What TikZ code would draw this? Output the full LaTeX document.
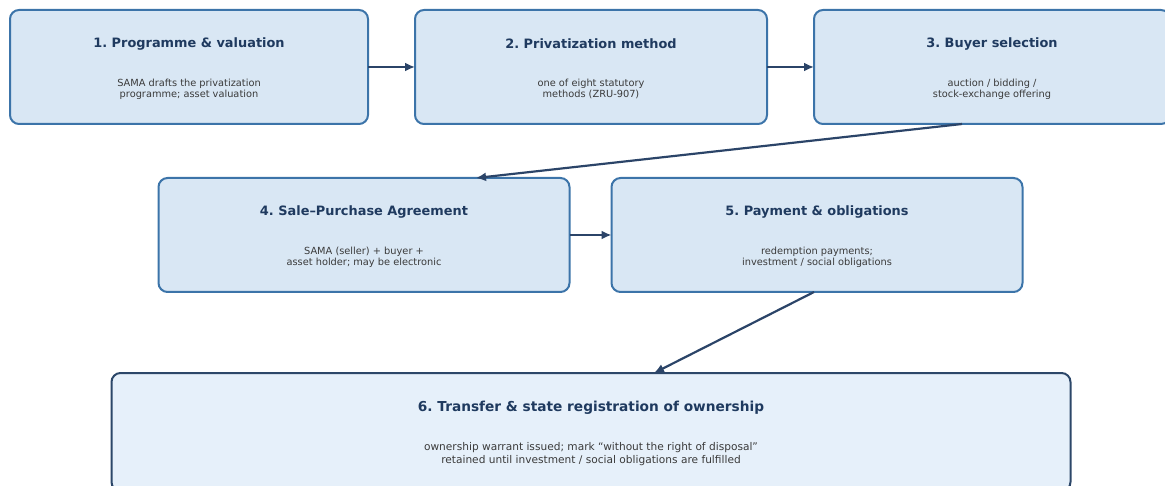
\documentclass[tikz,border=0pt]{standalone}
\usepackage{fontspec}
\setmainfont{DejaVu Sans}
\usepackage{xcolor}
\usepackage{tikz}
\usetikzlibrary{positioning,calc,arrows.meta}
\frenchspacing

\definecolor{boxfill}{HTML}{D9E7F4}
\definecolor{boxline}{HTML}{3C74A9}
\definecolor{lastfill}{HTML}{E6F0FA}
\definecolor{lastline}{HTML}{2C4769}
\definecolor{titlecol}{HTML}{1F3A5F}
\definecolor{subcol}{HTML}{3A3A3A}
\definecolor{arrowcol}{HTML}{2B4468}

\begin{document}
\begin{tikzpicture}[x=1pt, y=-1pt,
    stage/.style={draw=boxline, fill=boxfill, line width=2pt, rounded corners=9pt,
      minimum height=114pt, inner sep=0pt, outer sep=0pt},
    final/.style={stage, draw=lastline, fill=lastfill, minimum height=118pt},
    title/.style={text=titlecol, inner sep=0pt, font=\fontsize{12.9}{15}\selectfont\bfseries},
    sub/.style={text=subcol, inner sep=0pt, align=center, font=\fontsize{9.8}{11.2}\selectfont},
    flow/.style={draw=arrowcol, line width=2.2pt, -{Latex[length=10pt,width=9pt]}}]
  \useasboundingbox (0,0) rectangle (1165,486);

  % Top row
  \node[stage, minimum width=358pt] (s1) at (189,67) {};
  \node[title] (t1) at (189,44) {1. Programme \& valuation};
  \node[sub] (d1) at (189,89) {SAMA drafts the privatization\\programme; asset valuation};

  \node[stage, minimum width=352pt] (s2) at (591,67) {};
  \node[title] (t2) at (591,44) {2. Privatization method};
  \node[sub] (d2) at (591,89) {one of eight statutory\\methods (ZRU-907)};

  \node[stage, minimum width=356pt] (s3) at (992,67) {};
  \node[title] (t3) at (992,44) {3. Buyer selection};
  \node[sub] (d3) at (992,89) {auction / bidding /\\stock-exchange offering};

  % Middle row
  \node[stage, minimum width=411pt] (s4) at (364,235) {};
  \node[title] (t4) at (364,212) {4. Sale–Purchase Agreement};
  \node[sub] (d4) at (364,257) {SAMA (seller) + buyer +\\asset holder; may be electronic};

  \node[stage, minimum width=411pt] (s5) at (817,235) {};
  \node[title] (t5) at (817,212) {5. Payment \& obligations};
  \node[sub] (d5) at (817,257) {redemption payments;\\investment / social obligations};

  % Last step
  \node[final, minimum width=959pt] (s6) at (591,432) {};
  \node[title, font=\fontsize{13.7}{16}\selectfont\bfseries] (t6) at (591,408)
    {6. Transfer \& state registration of ownership};
  \node[sub, font=\fontsize{10.6}{12.8}\selectfont] (d6) at (591,454)
    {ownership warrant issued; mark “without the right of disposal”\\retained until investment / social obligations are fulfilled};

  % Arrows
  \draw[flow] (s1) -- (s2);
  \draw[flow] (s2) -- (s3);
  \draw[flow] ([xshift=-30pt]s3.south) -- ([xshift=112pt]s4.north);
  \draw[flow] (s4) -- (s5);
  \draw[flow] ([xshift=-3pt]s5.south) -- ([xshift=63pt]s6.north);
\end{tikzpicture}
\end{document}
